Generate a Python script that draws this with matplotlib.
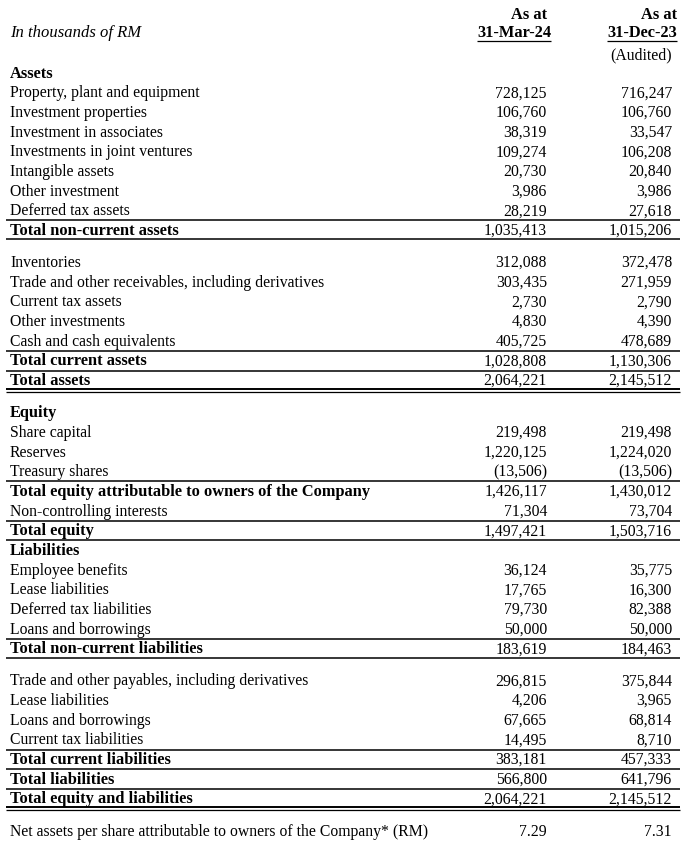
import matplotlib
matplotlib.use("Agg")
import matplotlib.pyplot as plt

# rows: (label, 31-Mar-24, 31-Dec-23, kind)
# kind: head = bold section title, item = plain row, total = bold subtotal,
#       grand = bold total with double rule, gap = blank spacer
labels = [
    "Assets", "Property, plant and equipment", "Investment properties",
    "Investment in associates", "Investments in joint ventures", "Intangible assets",
    "Other investment", "Deferred tax assets", "Total non-current assets", "",
    "Inventories", "Trade and other receivables, including derivatives",
    "Current tax assets", "Other investments", "Cash and cash equivalents",
    "Total current assets", "Total assets", "",
    "Equity", "Share capital", "Reserves", "Treasury shares",
    "Total equity attributable to owners of the Company", "Non-controlling interests",
    "Total equity", "Liabilities", "Employee benefits", "Lease liabilities",
    "Deferred tax liabilities", "Loans and borrowings", "Total non-current liabilities", "",
    "Trade and other payables, including derivatives", "Lease liabilities",
    "Loans and borrowings", "Current tax liabilities", "Total current liabilities",
    "Total liabilities", "Total equity and liabilities", "",
    "Net assets per share attributable to owners of the Company* (RM)",
]
mar24 = [
    "", "728,125", "106,760", "38,319", "109,274", "20,730", "3,986", "28,219", "1,035,413", "",
    "312,088", "303,435", "2,730", "4,830", "405,725", "1,028,808", "2,064,221", "",
    "", "219,498", "1,220,125", "(13,506)", "1,426,117", "71,304", "1,497,421",
    "", "36,124", "17,765", "79,730", "50,000", "183,619", "",
    "296,815", "4,206", "67,665", "14,495", "383,181", "566,800", "2,064,221", "",
    "7.29",
]
dec23 = [
    "", "716,247", "106,760", "33,547", "106,208", "20,840", "3,986", "27,618", "1,015,206", "",
    "372,478", "271,959", "2,790", "4,390", "478,689", "1,130,306", "2,145,512", "",
    "", "219,498", "1,224,020", "(13,506)", "1,430,012", "73,704", "1,503,716",
    "", "35,775", "16,300", "82,388", "50,000", "184,463", "",
    "375,844", "3,965", "68,814", "8,710", "457,333", "641,796", "2,145,512", "",
    "7.31",
]
kinds = [
    "head", "item", "item", "item", "item", "item", "item", "item", "total", "gap",
    "item", "item", "item", "item", "item", "total", "grand", "gap",
    "head", "item", "item", "item", "total", "item", "total",
    "head", "item", "item", "item", "item", "total", "gap",
    "item", "item", "item", "item", "total", "total", "grand", "gap",
    "item",
]

W, H = 690, 853
FONT = "Liberation Serif"
FS = 11.3
FS_BOLD = 11.8
STEP = 19.67
GAP = 12.5
BASE = 4.0          # baseline offset below row centre (px)
X_LABEL = 10
X_COL1 = 547
X_COL2 = 672
RULE_X0, RULE_X1 = 6, 680

fig = plt.figure(figsize=(W / 100, H / 100), dpi=100)
ax = fig.add_axes([0, 0, 1, 1])
ax.set_xlim(0, W)
ax.set_ylim(H, 0)
ax.axis("off")


def rule(y, lw=1.1):
    ax.plot([RULE_X0, RULE_X1], [y, y], color="black", lw=lw, solid_capstyle="butt")


def txt(x, y, s, ha="left", **kw):
    kw.setdefault("fontsize", FS)
    return ax.text(x, y + BASE, s, family=FONT, va="baseline", ha=ha, **kw)


# header
txt(X_LABEL, 33, "In thousands of RM", fontsize=12, style="italic")
txt(547, 15, "As at", ha="right", weight="bold", fontsize=FS_BOLD)
txt(677, 15, "As at", ha="right", weight="bold", fontsize=FS_BOLD)
d1 = txt(551, 33, "31-Mar-24", ha="right", weight="bold", fontsize=FS_BOLD)
d2 = txt(677, 33, "31-Dec-23", ha="right", weight="bold", fontsize=FS_BOLD)
txt(672, 55, "(Audited)", ha="right")

renderer = fig.canvas.get_renderer()
inv = ax.transData.inverted()
for t in (d1, d2):
    bb = t.get_window_extent(renderer)
    (x0, _), (x1, _) = inv.transform([(bb.x0, bb.y0), (bb.x1, bb.y1)])
    ax.plot([x0, x1], [41.5, 41.5], color="black", lw=0.9, solid_capstyle="butt")

# body
y = 73.5
ys = []
for k in kinds:
    ys.append(y)
    y += GAP if k == "gap" else STEP

for i, (lab, a, b, k) in enumerate(zip(labels, mar24, dec23, kinds)):
    if k == "gap":
        continue
    yy = ys[i]
    if k in ("head", "total", "grand"):
        txt(X_LABEL, yy, lab, weight="bold", fontsize=FS_BOLD)
    else:
        txt(X_LABEL, yy, lab)
    if a:
        txt(X_COL1, yy, a, ha="right")
    if b:
        txt(X_COL2, yy, b, ha="right")
    if k in ("total", "grand"):
        rule(yy - 9.5)
        nxt = kinds[i + 1] if i + 1 < len(kinds) else "gap"
        if k == "grand":
            rule(yy + 9, lw=1.4)
            rule(yy + 11.5, lw=0.9)
        elif nxt not in ("item", "total", "grand"):
            rule(yy + 9.5)

fig.savefig("out.png", dpi=100)
